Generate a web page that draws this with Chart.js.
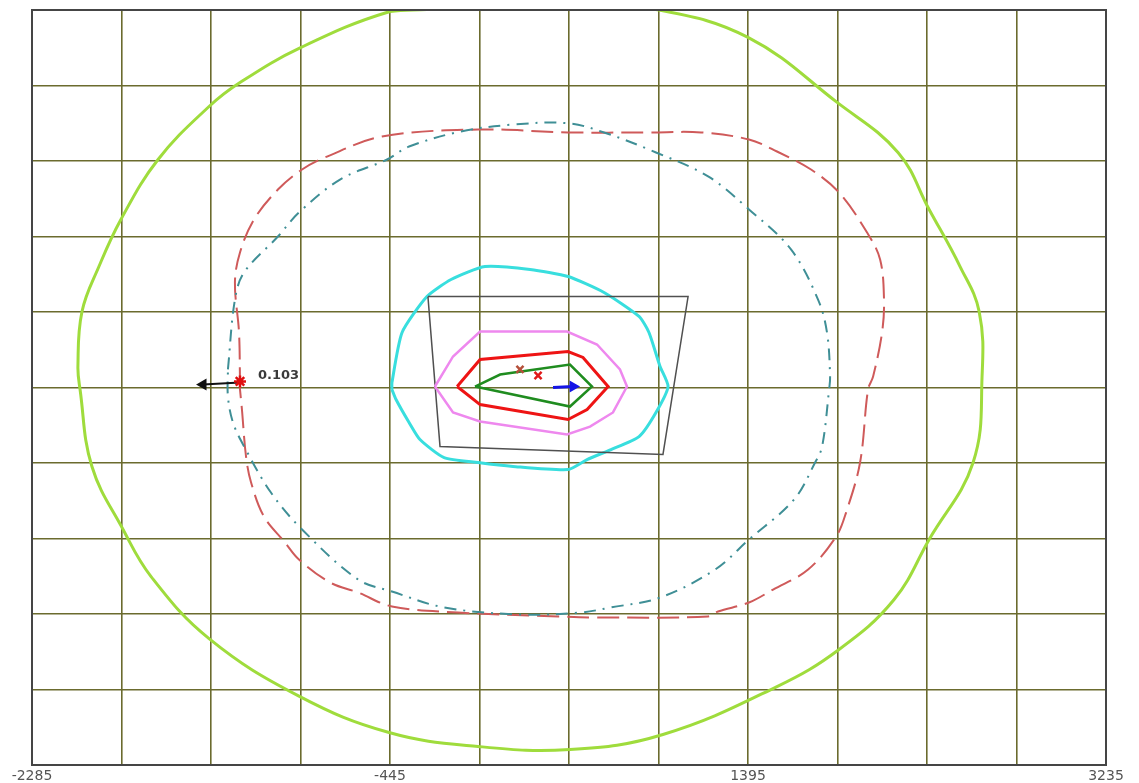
<!DOCTYPE html>
<html>
<head>
<meta charset="utf-8">
<script src="https://cdn.jsdelivr.net/npm/chart.js@4.4.0/dist/chart.umd.min.js"></script>
<style>
  html, body { margin: 0; padding: 0; background: #fff; }
  #box { width: 1139px; height: 783px; position: relative; }
</style>
</head>
<body>
<div id="box"><canvas id="grafico"></canvas></div>
<script>
// griglia: 460 unita' per maglia
const xTicks = [-2285, -1825, -1365, -905, -445, 15, 475, 935, 1395, 1855, 2315, 2775, 3235];
const xTickLabels = ['-2285', '', '', '', '-445', '', '', '', '1395', '', '', '', '3235'];
const yTicks = [-2300, -1840, -1380, -920, -460, 0, 460, 920, 1380, 1840, 2300];

// isolinee (x, y)
const curvaEsterna = [[-255, 2303], [326, 2380], [922, 2303], [1395, 2133], [1853, 1737], [2166, 1432], [2326, 1085], [2485, 737], [2583, 463], [2598, 67], [2552, -457], [2326, -926], [2146, -1292], [1863, -1596], [1544, -1822], [958, -2114], [480, -2206], [7, -2187], [-450, -2102], [-913, -1880], [-1375, -1530], [-1673, -1152], [-1817, -865], [-1977, -481], [-2038, -12], [-2049, 128], [-2028, 463], [-1941, 737], [-1828, 1024], [-1637, 1389], [-1375, 1712], [-1216, 1858], [-902, 2072], [-445, 2291], [-255, 2303]];
const curvaTratteggiata = [[-1216, -12], [-1216, 30], [-1221, 335], [-1242, 640], [-1216, 823], [-1144, 1024], [-1021, 1206], [-897, 1328], [-769, 1407], [-486, 1529], [7, 1572], [470, 1554], [886, 1554], [1154, 1554], [1400, 1511], [1544, 1438], [1719, 1328], [1863, 1188], [2007, 944], [2074, 780], [2094, 536], [2084, 335], [2038, 67], [2012, -12], [1971, -457], [1899, -762], [1848, -908], [1704, -1109], [1524, -1231], [1400, -1310], [1241, -1365], [1190, -1395], [604, -1401], [419, -1395], [-95, -1371], [-435, -1334], [-609, -1249], [-753, -1188], [-913, -1048], [-985, -944], [-1093, -786], [-1159, -579], [-1185, -420], [-1206, -134], [-1216, -12]];
const curvaPuntoLinea = [[-1278, 110], [-1242, 536], [-1195, 701], [-1021, 920], [-913, 1066], [-702, 1267], [-460, 1389], [-347, 1468], [-80, 1560], [187, 1602], [470, 1610], [655, 1554], [922, 1432], [1190, 1286], [1400, 1085], [1616, 841], [1755, 536], [1801, 335], [1817, 67], [1812, -12], [1776, -359], [1740, -457], [1632, -682], [1400, -926], [1226, -1109], [943, -1280], [691, -1340], [532, -1371], [223, -1383], [-167, -1340], [-435, -1243], [-609, -1170], [-897, -865], [-1057, -640], [-1195, -359], [-1252, -213], [-1278, -55], [-1278, 110]];
const curvaCiano = [[-435, -12], [-435, 30], [-383, 335], [-255, 554], [-131, 658], [43, 737], [275, 719], [470, 676], [655, 579], [835, 433], [886, 335], [943, 128], [984, 6], [922, -152], [835, -299], [691, -378], [568, -439], [470, -500], [187, -481], [7, -457], [-167, -427], [-291, -317], [-347, -213], [-414, -73], [-435, -12]];
const curvaViola = [[-214, 6], [-121, 189], [18, 341], [465, 341], [619, 262], [737, 110], [773, 6], [701, -152], [583, -238], [465, -286], [18, -207], [-121, -152], [-214, 6]];
const curvaRossa = [[-100, 6], [18, 171], [470, 219], [547, 183], [676, 6], [568, -134], [470, -195], [18, -104], [-100, 6]];
const curvaVerde = [[-8, 6], [121, 79], [480, 140], [593, 6], [480, -116], [-8, 6]];
const edificio = [[-250, 554], [1087, 554], [958, -408], [-188, -359], [-250, 554]];

// marcatori
const ricettore = [[-1216, 37]];
const freccia = [[-1216, 30], [-1406, 18]];
const sorgenti = [[223, 110], [316, 73]];
const vento = [[393, 0], [496, 6]];
const etichetta = { x: -1216, y: 37, testo: '0.103' };

const pts = arr => arr.map(p => ({ x: p[0], y: p[1] }));
const gridColor = '#6b6b2e';

function linea(dati, colore, spessore, extra) {
  return Object.assign({
    data: pts(dati),
    showLine: true,
    borderColor: colore,
    backgroundColor: colore,
    borderWidth: spessore,
    pointRadius: 0,
    fill: false
  }, extra || {});
}

const datasets = [
  {
    data: pts(ricettore), showLine: false,
    pointStyle: 'star', pointRadius: 6, pointBorderWidth: 2.5,
    pointBorderColor: '#e01010', pointBackgroundColor: '#e01010'
  },
  linea(freccia, '#111111', 2, {
    pointRadius: [0, 5], pointStyle: 'triangle', pointRotation: -90,
    pointBackgroundColor: '#111111', pointBorderColor: '#111111'
  }),
  {
    data: pts(sorgenti), showLine: false,
    pointStyle: 'crossRot', pointRadius: 5, pointBorderWidth: 2.5,
    pointBorderColor: ['#b5503a', '#e01818']
  },
  linea(vento, '#1414e6', 3, {
    pointRadius: [0, 4], pointStyle: 'triangle', pointRotation: 90,
    pointBackgroundColor: '#1414e6', pointBorderColor: '#1414e6'
  }),
  linea(curvaVerde, '#1f8c1f', 2.5),
  linea(curvaRossa, '#ee1414', 3),
  linea(curvaViola, '#ee88ee', 2.5),
  linea(edificio, '#505050', 1.5),
  linea(curvaCiano, '#38dede', 3, { tension: 0.2 }),
  linea(curvaPuntoLinea, '#3f8f96', 2, { tension: 0.35, borderDash: [12, 7, 2, 7] }),
  linea(curvaTratteggiata, '#cf5a5a', 2, { tension: 0.35, borderDash: [22, 8] }),
  linea(curvaEsterna, '#9fdc3c', 3, { tension: 0.4, clip: 0 })
];

// cornice e testo del ricettore
const cornice = {
  id: 'cornice',
  afterDatasetsDraw(chart) {
    const c = chart.ctx;
    const xs = chart.scales.x, ys = chart.scales.y;
    c.save();
    c.font = 'bold 13px "DejaVu Sans"';
    c.fillStyle = '#3a3a3a';
    c.textBaseline = 'middle';
    c.fillText(etichetta.testo, xs.getPixelForValue(etichetta.x) + 18, ys.getPixelForValue(etichetta.y) - 6);
    const a = chart.chartArea;
    c.strokeStyle = '#454545';
    c.lineWidth = 2;
    c.strokeRect(a.left, a.top, a.right - a.left, a.bottom - a.top);
    c.restore();
  }
};

const ctx = document.getElementById('grafico').getContext('2d');

new Chart(ctx, {
  type: 'scatter',
  data: { datasets: datasets },
  options: {
    responsive: true,
    maintainAspectRatio: false,
    animation: false,
    layout: { padding: { left: 32, right: 33, top: 10, bottom: 0 } },
    scales: {
      x: {
        type: 'linear',
        min: -2285,
        max: 3235,
        afterBuildTicks: s => { s.ticks = xTicks.map(v => ({ value: v })); },
        afterFit: s => { s.height = 18; },
        grid: { color: gridColor, lineWidth: 1.6, drawTicks: false },
        border: { display: false },
        ticks: {
          padding: 3,
          maxRotation: 0,
          autoSkip: false,
          color: '#555555',
          font: { family: 'DejaVu Sans', size: 14 },
          callback: (v, i) => xTickLabels[i]
        }
      },
      y: {
        type: 'linear',
        min: -2300,
        max: 2300,
        afterBuildTicks: s => { s.ticks = yTicks.map(v => ({ value: v })); },
        afterFit: s => { s.width = 0; },
        grid: { color: gridColor, lineWidth: 1.6, drawTicks: false },
        border: { display: false },
        ticks: { display: false }
      }
    },
    plugins: {
      legend: { display: false },
      tooltip: { enabled: false }
    }
  },
  plugins: [cornice]
});
</script>
</body>
</html>
